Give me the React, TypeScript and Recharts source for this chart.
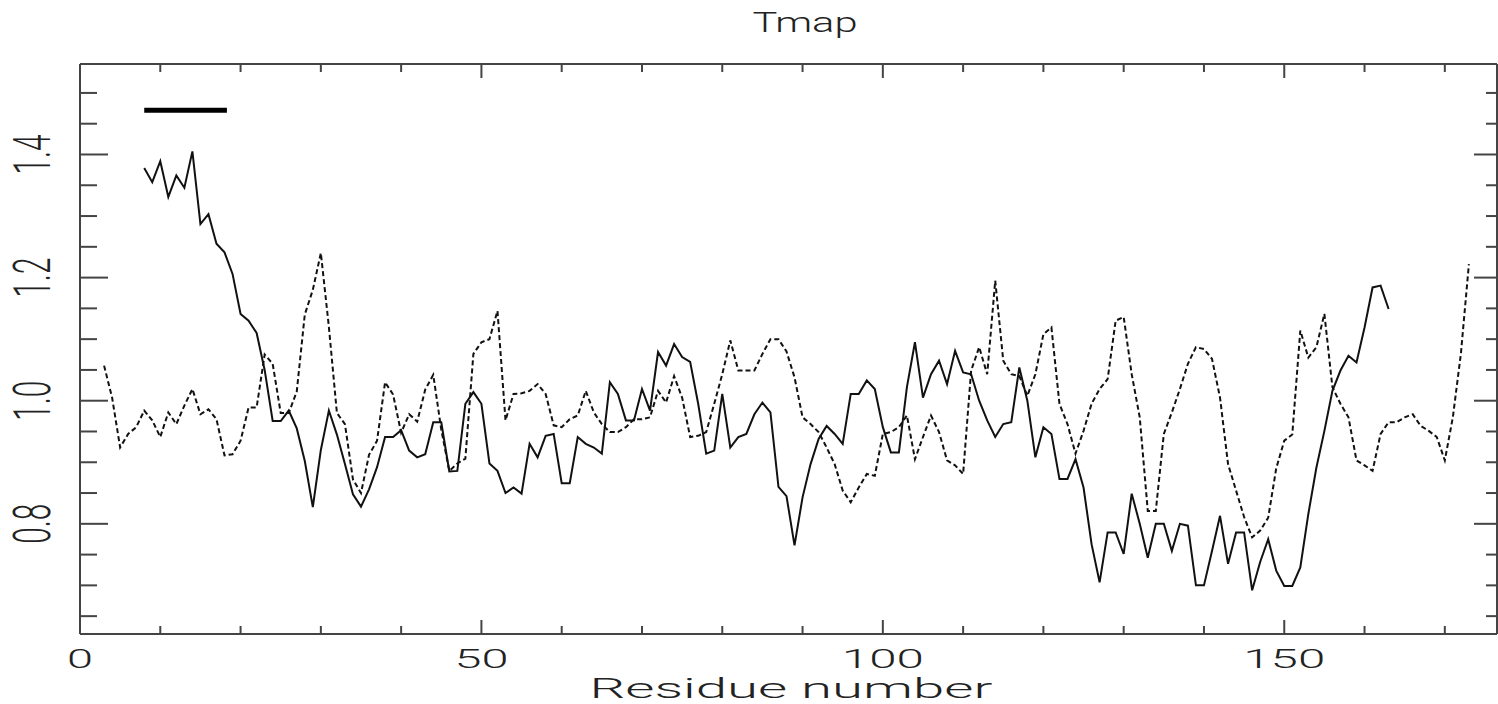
import React from 'react';
import { LineChart, Line, XAxis, YAxis } from 'recharts';

// residue numbers where each trace starts
const SOLID_START = 8;
const DASHED_START = 3;

const SOLID_VALUES = [
  1.378, 1.355, 1.389, 1.331, 1.366, 1.346, 1.405, 1.287, 1.303, 1.255,
  1.241, 1.206, 1.141, 1.13, 1.11, 1.05, 0.967, 0.967, 0.984, 0.955,
  0.902, 0.827, 0.92, 0.984, 0.945, 0.897, 0.848, 0.828, 0.856, 0.892,
  0.941, 0.941, 0.952, 0.919, 0.908, 0.913, 0.965, 0.965, 0.885, 0.886,
  0.995, 1.014, 0.995, 0.898, 0.886, 0.85, 0.859, 0.849, 0.93, 0.908,
  0.943, 0.946, 0.866, 0.866, 0.941, 0.93, 0.924, 0.914, 1.03, 1.011,
  0.968, 0.968, 1.019, 0.984, 1.079, 1.057, 1.092, 1.071, 1.063, 0.995,
  0.914, 0.919, 1.011, 0.924, 0.941, 0.946, 0.978, 0.997, 0.981, 0.86,
  0.845, 0.765, 0.843, 0.897, 0.938, 0.959, 0.946, 0.93, 1.011, 1.011,
  1.033, 1.019, 0.957, 0.916, 0.916, 1.022, 1.095, 1.005, 1.043, 1.065,
  1.027, 1.081, 1.046, 1.043, 1.0, 0.968, 0.941, 0.962, 0.965, 1.054,
  1.0, 0.908, 0.957, 0.946, 0.873, 0.873, 0.905, 0.859, 0.767, 0.705,
  0.786, 0.786, 0.751, 0.849, 0.8, 0.745, 0.8, 0.8, 0.756, 0.8,
  0.797, 0.7, 0.7, 0.756, 0.813, 0.735, 0.786, 0.786, 0.692, 0.738,
  0.775, 0.724, 0.699, 0.699, 0.729, 0.816, 0.891, 0.951, 1.016, 1.049,
  1.073, 1.062, 1.119, 1.184, 1.187, 1.149,
];

const DASHED_VALUES = [
  1.057, 1.005, 0.924, 0.946, 0.957, 0.984, 0.968, 0.941, 0.981, 0.962,
  0.992, 1.019, 0.978, 0.986, 0.97, 0.911, 0.913, 0.935, 0.989, 0.989,
  1.075, 1.06, 0.98, 0.98, 1.015, 1.14, 1.18, 1.24, 1.12, 0.98,
  0.962, 0.872, 0.85, 0.912, 0.935, 1.03, 1.01, 0.948, 0.978, 0.966,
  1.018, 1.042, 0.953, 0.886, 0.898, 0.906, 1.076, 1.095, 1.1, 1.146,
  0.968, 1.011, 1.012, 1.016, 1.027, 1.011, 0.96, 0.957, 0.97, 0.976,
  1.016, 0.981, 0.962, 0.949, 0.949, 0.957, 0.97, 0.97, 0.973, 1.016,
  0.997, 1.04, 1.005, 0.941, 0.943, 0.949, 0.995, 1.043, 1.098, 1.049,
  1.049, 1.049, 1.076, 1.1, 1.1, 1.08, 1.038, 0.973, 0.962, 0.949,
  0.924, 0.897, 0.854, 0.835, 0.859, 0.881, 0.878, 0.946, 0.949, 0.957,
  0.976, 0.905, 0.941, 0.976, 0.949, 0.903, 0.895, 0.881, 1.049, 1.087,
  1.043, 1.195, 1.065, 1.043, 1.04, 1.008, 1.043, 1.108, 1.119, 0.995,
  0.962, 0.914, 0.951, 0.995, 1.019, 1.035, 1.13, 1.136, 1.043, 0.973,
  0.821, 0.821, 0.946, 0.981, 1.019, 1.06, 1.087, 1.084, 1.068, 1.005,
  0.897, 0.854, 0.811, 0.778, 0.789, 0.81, 0.89, 0.935, 0.945, 1.114,
  1.07, 1.087, 1.141, 1.022, 0.995, 0.973, 0.903, 0.895, 0.886, 0.946,
  0.965, 0.965, 0.973, 0.978, 0.959, 0.951, 0.941, 0.903, 0.973, 1.076,
  1.222,
];

// thick marker bar in the upper left
const BAR_X = [8, 18.3];
const BAR_LEVEL = 1.472;

const X_DOMAIN = [0, 176.5];
const Y_DOMAIN = [0.621, 1.547];
const X_TICKS = [0, 10, 20, 30, 40, 50, 60, 70, 80, 90, 100, 110, 120, 130, 140, 150, 160, 170];
const X_LABELED = [0, 50, 100, 150];
const Y_TICKS = [0.65, 0.7, 0.75, 0.8, 0.85, 0.9, 0.95, 1.0, 1.05, 1.1, 1.15, 1.2, 1.25, 1.3, 1.35, 1.4, 1.45, 1.5];
const Y_LABELED = [0.8, 1.0, 1.2, 1.4];

const FONT = 'Roboto, "DejaVu Sans", sans-serif';
const INK = '#222';
const FRAME = '#444';

const lastX = Math.max(SOLID_START + SOLID_VALUES.length, DASHED_START + DASHED_VALUES.length);
const data: { x: number; solid: number | null; dashed: number | null }[] = [];
for (let r = DASHED_START; r < lastX; r++) {
  const si = r - SOLID_START;
  const di = r - DASHED_START;
  data.push({
    x: r,
    solid: si >= 0 && si < SOLID_VALUES.length ? SOLID_VALUES[si] : null,
    dashed: di >= 0 && di < DASHED_VALUES.length ? DASHED_VALUES[di] : null,
  });
}
const barData = BAR_X.map((x) => ({ x, y: BAR_LEVEL }));

const isIn = (v: number, list: number[]) => list.some((t) => Math.abs(t - v) < 1e-6);

const BottomTick = (props: any) => {
  const { x, y, payload } = props;
  const major = isIn(payload.value, X_LABELED);
  const label = String(payload.value);
  return (
    <g>
      <line x1={x} x2={x} y1={y} y2={y - (major ? 14 : 8)} stroke={FRAME} strokeWidth={2} />
      {major && (
        <text
          x={x}
          y={y + 34}
          textAnchor="middle"
          fontFamily={FONT}
          fontWeight={300}
          fontSize={25}
          fill={INK}
          textLength={label.length * 28 - 2}
          lengthAdjust="spacingAndGlyphs"
        >
          {label}
        </text>
      )}
    </g>
  );
};

const TopTick = (props: any) => {
  const { x, y, payload } = props;
  const major = isIn(payload.value, X_LABELED);
  return <line x1={x} x2={x} y1={y} y2={y + (major ? 14 : 8)} stroke={FRAME} strokeWidth={2} />;
};

const LeftTick = (props: any) => {
  const { x, y, payload } = props;
  const major = isIn(payload.value, Y_LABELED);
  return (
    <g>
      <line x1={x} x2={x + (major ? 28 : 17)} y1={y} y2={y} stroke={FRAME} strokeWidth={2} />
      {major && (
        <text
          transform={`translate(50,${y}) rotate(-90) scale(1,2.05)`}
          textAnchor="middle"
          fontFamily={FONT}
          fontWeight={300}
          fontSize={25}
          fill={INK}
          textLength={40}
          lengthAdjust="spacingAndGlyphs"
        >
          {payload.value.toFixed(1)}
        </text>
      )}
    </g>
  );
};

const RightTick = (props: any) => {
  const { x, y, payload } = props;
  const major = isIn(payload.value, Y_LABELED);
  return <line x1={x} x2={x - (major ? 23 : 11)} y1={y} y2={y} stroke={FRAME} strokeWidth={2} />;
};

export default function App() {
  return (
    <div style={{ position: 'absolute', left: 0, top: 0, width: 1498, height: 704, background: '#fff' }}>
      <LineChart width={1498} height={704} data={data} margin={{ top: 63, right: 0, bottom: 0, left: 0 }}>
        <XAxis
          xAxisId="bottom"
          dataKey="x"
          type="number"
          domain={X_DOMAIN}
          ticks={X_TICKS}
          interval={0}
          allowDataOverflow
          height={70}
          tickSize={0}
          tickMargin={0}
          tickLine={false}
          axisLine={{ stroke: FRAME, strokeWidth: 2 }}
          tick={BottomTick}
        />
        <XAxis
          xAxisId="top"
          orientation="top"
          dataKey="x"
          type="number"
          domain={X_DOMAIN}
          ticks={X_TICKS}
          interval={0}
          allowDataOverflow
          height={1}
          tickSize={0}
          tickMargin={0}
          tickLine={false}
          axisLine={{ stroke: FRAME, strokeWidth: 2 }}
          tick={TopTick}
        />
        <YAxis
          yAxisId="left"
          type="number"
          domain={Y_DOMAIN}
          ticks={Y_TICKS}
          interval={0}
          allowDataOverflow
          width={80}
          tickSize={0}
          tickMargin={0}
          tickLine={false}
          axisLine={{ stroke: FRAME, strokeWidth: 2 }}
          tick={LeftTick}
        />
        <YAxis
          yAxisId="right"
          orientation="right"
          type="number"
          domain={Y_DOMAIN}
          ticks={Y_TICKS}
          interval={0}
          allowDataOverflow
          width={1}
          tickSize={0}
          tickMargin={0}
          tickLine={false}
          axisLine={{ stroke: FRAME, strokeWidth: 2 }}
          tick={RightTick}
        />
        <Line
          xAxisId="bottom"
          yAxisId="left"
          dataKey="dashed"
          type="linear"
          stroke="#111"
          strokeWidth={2}
          strokeDasharray="5 3"
          dot={false}
          isAnimationActive={false}
        />
        <Line
          xAxisId="bottom"
          yAxisId="left"
          dataKey="solid"
          type="linear"
          stroke="#111"
          strokeWidth={2}
          dot={false}
          isAnimationActive={false}
        />
        <Line
          xAxisId="bottom"
          yAxisId="left"
          data={barData}
          dataKey="y"
          type="linear"
          stroke="#000"
          strokeWidth={5}
          dot={false}
          isAnimationActive={false}
        />
        <text
          x={805}
          y={32}
          textAnchor="middle"
          fontFamily={FONT}
          fontWeight={300}
          fontSize={27}
          fill={INK}
          textLength={105}
          lengthAdjust="spacingAndGlyphs"
        >
          Tmap
        </text>
        <text
          x={791}
          y={698}
          textAnchor="middle"
          fontFamily={FONT}
          fontWeight={300}
          fontSize={27}
          fill={INK}
          textLength={403}
          lengthAdjust="spacingAndGlyphs"
        >
          Residue number
        </text>
      </LineChart>
    </div>
  );
}
